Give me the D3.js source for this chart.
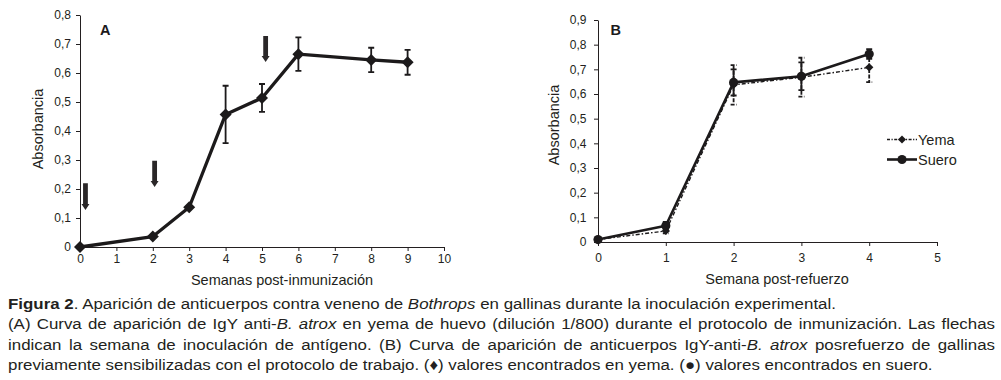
<!DOCTYPE html>
<html>
<head>
<meta charset="utf-8">
<script src="https://cdn.jsdelivr.net/npm/d3@7"></script>
<style>
  body { margin: 0; background: #fff; }
  svg { display: block; font-family: Arial, "Liberation Sans", Helvetica, sans-serif; }
  .axis path, .axis line { stroke: #231f20; stroke-width: 1; }
  .axis text { font-size: 12px; fill: #231f20; }
  .axes-labels { font-size: 14.5px; fill: #231f20; }
</style>
</head>
<body>
<svg id="chart" width="1001" height="380"></svg>
<script>
// Panel A: IgY en yema durante la inmunizacion
const weeksA = [0, 2, 3, 4, 5, 6, 8, 9];
const absA = [0, 0.036, 0.137, 0.457, 0.514, 0.665, 0.645, 0.637];
const errA = [0, 0, 0, 0.099, 0.048, 0.058, 0.042, 0.043];
const ticksXA = [0, 1, 2, 3, 4, 5, 6, 7, 8, 9, 10];
const ticksYA = [0, 0.1, 0.2, 0.3, 0.4, 0.5, 0.6, 0.7, 0.8];

// flechas: semana de inoculacion
const arrowWeeks = [0.15, 2.05, 5.1];
const arrowTop = [0.22, 0.297, 0.728];
const arrowTip = [0.128, 0.207, 0.638];

// Panel B: posrefuerzo
const weeksB = [0, 1, 2, 3, 4];
const yema = [0.01, 0.045, 0.637, 0.668, 0.708];
const yemaErr = [0, 0.01, 0.08, 0.079, 0.06];
const suero = [0.01, 0.066, 0.647, 0.672, 0.762];
const sueroErr = [0, 0.015, 0.053, 0.056, 0.02];
const ticksXB = [0, 1, 2, 3, 4, 5];
const ticksYB = [0, 0.1, 0.2, 0.3, 0.4, 0.5, 0.6, 0.7, 0.8, 0.9];

const legendNames = ["Yema", "Suero"];

const caption = [
  [["Figura 2", "b"], [". Aparición de anticuerpos contra veneno de ", ""], ["Bothrops", "i"], [" en gallinas durante la inoculación experimental.", ""]],
  [["(A) Curva de aparición de IgY anti-", ""], ["B. atrox", "i"], [" en yema de huevo (dilución 1/800) durante el protocolo de inmunización. Las flechas", ""]],
  [["indican la semana de inoculación de antígeno. (B) Curva de aparición de anticuerpos IgY-anti-", ""], ["B. atrox", "i"], [" posrefuerzo de gallinas", ""]],
  [["previamente sensibilizadas con el protocolo de trabajo. (\u2666) valores encontrados en yema. (\u25CF) valores encontrados en suero.", ""]]
];
const justified = [false, true, true, false];

const ink = "#1c1a1b";
const svg = d3.select("#chart");

function commaFmt(d) {
  return d === 0 ? "0" : d.toFixed(1).replace(".", ",");
}

/**
 * Draws an axis pair; scales come from caller.
 */
function drawAxes(g, x, y, xticks, yticks, padX, padY) {
  g.append("g")
    .attr("class", "axis")
    .attr("transform", "translate(0," + y(0) + ")")
    .call(d3.axisBottom(x).tickValues(xticks).tickSize(4).tickSizeOuter(0).tickPadding(padX).tickFormat(d3.format("d")));
  g.append("g")
    .attr("class", "axis")
    .attr("transform", "translate(" + x(0) + ",0)")
    .call(d3.axisLeft(y).tickValues(yticks).tickSize(4).tickSizeOuter(0).tickPadding(padY).tickFormat(commaFmt));
  g.selectAll(".axis .domain").attr("stroke", ink);
}

function errorBars(g, x, y, xs, ys, es, width, dash) {
  const idx = d3.range(xs.length).filter(i => es[i] > 0);
  const eb = g.append("g").attr("stroke", ink).attr("stroke-width", 1.8).attr("fill", "none");
  eb.selectAll("path").data(idx).join("path")
    .attr("stroke-dasharray", dash)
    .attr("d", i => {
      const cx = x(xs[i]), t = y(ys[i] + es[i]), b = y(ys[i] - es[i]);
      return "M" + cx + "," + t + "V" + b +
        "M" + (cx - width) + "," + t + "H" + (cx + width) +
        "M" + (cx - width) + "," + b + "H" + (cx + width);
    });
}

// ---------- Panel A ----------
const xA = d3.scaleLinear().domain([0, 10]).range([80, 444]);
const yA = d3.scaleLinear().domain([0, 0.8]).range([247, 15]);
const gA = svg.append("g");
drawAxes(gA, xA, yA, ticksXA, ticksYA, 3, 5);

errorBars(gA, xA, yA, weeksA, absA, errA, 3, null);

gA.append("path")
  .datum(d3.range(weeksA.length))
  .attr("fill", "none")
  .attr("stroke", ink)
  .attr("stroke-width", 3.3)
  .attr("stroke-linejoin", "round")
  .attr("d", d3.line().x(i => xA(weeksA[i])).y(i => yA(absA[i])));

gA.selectAll(".markA").data(d3.range(weeksA.length)).join("path")
  .attr("class", "markA")
  .attr("fill", ink)
  .attr("transform", i => "translate(" + xA(weeksA[i]) + "," + yA(absA[i]) + ")")
  .attr("d", "M0,-6L6,0L0,6L-6,0Z");

// arrows
gA.selectAll(".arrow").data(d3.range(arrowWeeks.length)).join("path")
  .attr("class", "arrow")
  .attr("fill", "#2a2728")
  .attr("d", i => {
    const cx = xA(arrowWeeks[i]), t = yA(arrowTop[i]), tip = yA(arrowTip[i]);
    const hb = tip - 6;
    return "M" + (cx - 2.4) + "," + t + "H" + (cx + 2.4) + "V" + hb + "H" + (cx + 4) +
      "L" + cx + "," + tip + "L" + (cx - 4) + "," + hb + "H" + (cx - 2.4) + "Z";
  });

gA.append("text")
  .attr("x", 100).attr("y", 35)
  .style("font-size", "14.5px").style("font-weight", "bold").attr("fill", ink)
  .text("A");

gA.append("text")
  .attr("x", 282).attr("y", 285)
  .attr("text-anchor", "middle")
  .attr("class", "axes-labels")
  .text("Semanas post-inmunización");

gA.append("text")
  .attr("transform", "translate(43,129) rotate(-90)")
  .attr("text-anchor", "middle")
  .attr("class", "axes-labels")
  .text("Absorbancia");

// ---------- Panel B ----------
const xB = d3.scaleLinear().domain([0, 5]).range([598, 937]);
const yB = d3.scaleLinear().domain([0, 0.9]).range([242, 20]);
const gB = svg.append("g");
drawAxes(gB, xB, yB, ticksXB, ticksYB, 7, 7.5);

errorBars(gB, xB, yB, weeksB, yema, yemaErr, 3, "4,1.5");
errorBars(gB, xB, yB, weeksB, suero, sueroErr, 3, null);

const lineB = vals => d3.line().x(i => xB(weeksB[i])).y(i => yB(vals[i]));

gB.append("path")
  .datum(d3.range(weeksB.length))
  .attr("fill", "none").attr("stroke", ink).attr("stroke-width", 1.4)
  .attr("stroke-dasharray", "4,2,1.5,2")
  .attr("d", lineB(yema));

gB.append("path")
  .datum(d3.range(weeksB.length))
  .attr("fill", "none").attr("stroke", ink).attr("stroke-width", 2.6)
  .attr("stroke-linejoin", "round")
  .attr("d", lineB(suero));

gB.selectAll(".markY").data(d3.range(weeksB.length)).join("path")
  .attr("class", "markY")
  .attr("fill", ink)
  .attr("transform", i => "translate(" + xB(weeksB[i]) + "," + yB(yema[i]) + ")")
  .attr("d", "M0,-4.2L4.2,0L0,4.2L-4.2,0Z");

gB.selectAll(".markS").data(d3.range(weeksB.length)).join("circle")
  .attr("class", "markS")
  .attr("fill", ink)
  .attr("cx", i => xB(weeksB[i]))
  .attr("cy", i => yB(suero[i]))
  .attr("r", 4.6);

// legend
const leg = gB.append("g");
legendNames.forEach((name, k) => {
  const ly = 139.5 + k * 20;
  leg.append("line")
    .attr("x1", 887).attr("x2", 917).attr("y1", ly).attr("y2", ly)
    .attr("stroke", ink)
    .attr("stroke-width", k === 0 ? 1.4 : 2.6)
    .attr("stroke-dasharray", k === 0 ? "3,1.5,1.2,1.5" : null);
  if (k === 0) {
    leg.append("path").attr("fill", ink)
      .attr("transform", "translate(902," + ly + ")")
      .attr("d", "M0,-4L4,0L0,4L-4,0Z");
  } else {
    leg.append("circle").attr("fill", ink).attr("cx", 902).attr("cy", ly).attr("r", 4.6);
  }
  leg.append("text")
    .attr("x", 918).attr("y", ly + 5)
    .attr("class", "axes-labels")
    .text(name);
});

gB.append("text")
  .attr("x", 610.5).attr("y", 35)
  .style("font-size", "14.5px").style("font-weight", "bold").attr("fill", ink)
  .text("B");

gB.append("text")
  .attr("x", 777).attr("y", 283.5)
  .attr("text-anchor", "middle")
  .attr("class", "axes-labels")
  .text("Semana post-refuerzo");

gB.append("text")
  .attr("transform", "translate(559,125) rotate(-90)")
  .attr("text-anchor", "middle")
  .attr("class", "axes-labels")
  .text("Absorbancia");

// ---------- Caption ----------
// the printed caption is a bit wider than Arial, so stretch it horizontally
const capScale = 1.09;
const capLeft = 8, capRight = 995;
const capG = svg.append("g")
  .attr("transform", "translate(" + capLeft + ",0) scale(" + capScale + ",1)")
  .style("font-size", "15.5px")
  .attr("fill", "#231f20");
caption.forEach((segs, li) => {
  const t = capG.append("text")
    .attr("x", 0)
    .attr("y", 309 + li * 20.5)
    .attr("xml:space", "preserve");
  segs.forEach(s => {
    t.append("tspan")
      .style("font-weight", s[1] === "b" ? "bold" : null)
      .style("font-style", s[1] === "i" ? "italic" : null)
      .text(s[0]);
  });
  if (justified[li]) {
    const natural = t.node().getComputedTextLength();
    const spaces = segs.map(s => s[0]).join("").split(" ").length - 1;
    t.style("word-spacing", (((capRight - capLeft) / capScale - natural) / spaces) + "px");
  }
});
</script>
</body>
</html>
